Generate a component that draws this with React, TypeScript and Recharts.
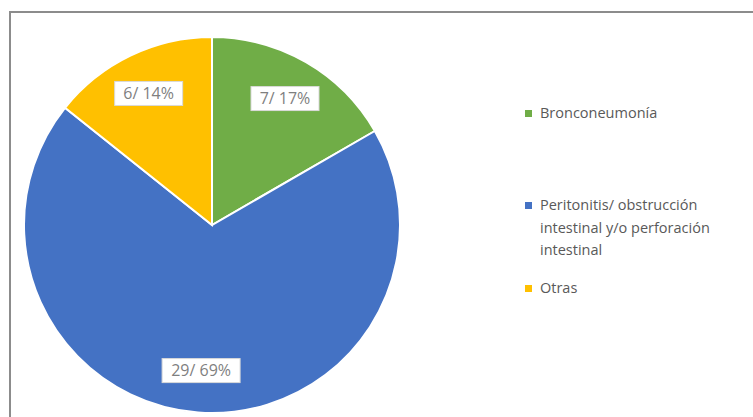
import { PieChart, Pie, Cell, Legend } from "recharts";

const categories = ["Bronconeumonía", "Peritonitis/ obstrucción intestinal y/o perforación intestinal", "Otras"];
const counts = [7, 29, 6];
const colors = ["#70ad47", "#4472c4", "#ffc000"];
// legend text broken the way the original wraps it
const legendLines = [
  ["Bronconeumonía"],
  ["Peritonitis/ obstrucción", "intestinal y/o perforación", "intestinal"],
  ["Otras"],
];
const legendTops = [102, 194, 277];

const data = categories.map((name, i) => ({ name, value: counts[i] }));

const RAD = Math.PI / 180;

function renderLabel(props: any) {
  const { cx, cy, midAngle, value, percent } = props;
  const r = 146;
  const x = cx + r * Math.cos(-midAngle * RAD);
  const y = cy + r * Math.sin(-midAngle * RAD);
  const text = `${value}/ ${Math.round(percent * 100)}%`;
  const w = text.length * 10 + 8;
  return (
    <g>
      <rect x={x - w / 2} y={y - 12} width={w} height={24} fill="#fff" stroke="#d9d9d9" strokeWidth={1} />
      <text x={x} y={y + 1} textAnchor="middle" dominantBaseline="middle" fill="#7f7f7f" fontSize={16} fontFamily="Open Sans">
        {text}
      </text>
    </g>
  );
}

function LegendBox() {
  return (
    <div style={{ position: "relative", width: 220, height: 300 }}>
      {legendLines.map((lines, i) => (
        <div key={i} style={{ position: "absolute", left: 0, top: legendTops[i] - 100 }}>
          <span style={{ position: "absolute", left: 0, top: 8, width: 7, height: 7, background: colors[i] }} />
          <div style={{ marginLeft: 15, color: "#595959", fontSize: 14.5, lineHeight: "22.5px", fontFamily: "Open Sans", whiteSpace: "nowrap" }}>
            {lines.map((l, j) => (
              <div key={j}>{l}</div>
            ))}
          </div>
        </div>
      ))}
    </div>
  );
}

export default function App() {
  return (
    <div style={{ position: "fixed", left: 0, top: 0, width: 753, height: 417, overflow: "hidden", background: "#fff" }}>
      <div style={{ position: "absolute", left: 9, top: 11, width: 800, height: 500, borderTop: "2px solid #8c8c8c", borderLeft: "2px solid #8c8c8c" }} />
      <PieChart width={740} height={417} style={{ position: "absolute", left: 0, top: 0 }}>
        <Pie
          data={data}
          dataKey="value"
          nameKey="name"
          cx={207}
          cy={220}
          outerRadius={188}
          startAngle={90}
          endAngle={-270}
          stroke="#fff"
          strokeWidth={2}
          label={renderLabel}
          labelLine={false}
          isAnimationActive={false}
        >
          {data.map((_, i) => (
            <Cell key={i} fill={colors[i]} />
          ))}
        </Pie>
        <Legend
          layout="vertical"
          content={() => <LegendBox />}
          wrapperStyle={{ position: "absolute", left: 525, top: 100, width: 215 }}
        />
      </PieChart>
    </div>
  );
}
